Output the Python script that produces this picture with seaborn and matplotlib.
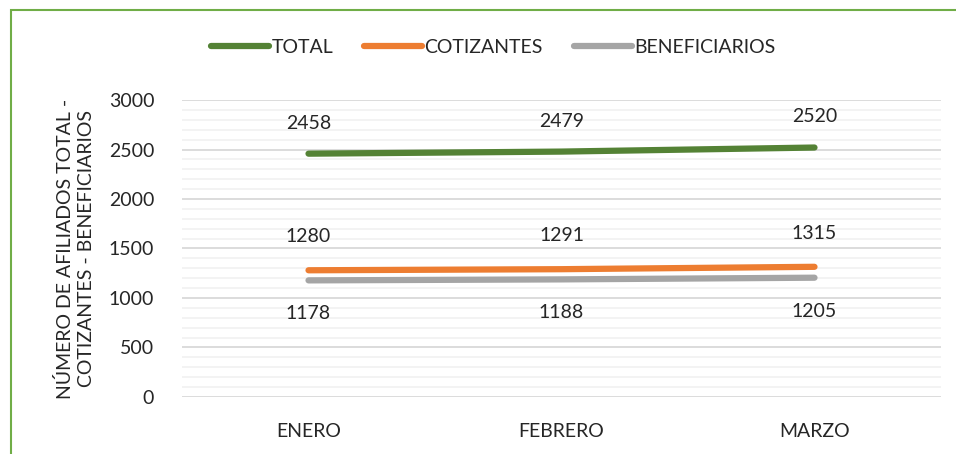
import pandas as pd
import matplotlib.pyplot as plt
import seaborn as sns
from matplotlib.patches import Rectangle
from matplotlib.ticker import MultipleLocator

# Data
meses = ["ENERO", "FEBRERO", "MARZO"]
total = [2458, 2479, 2520]
cotizantes = [1280, 1291, 1315]
beneficiarios = [1178, 1188, 1205]

series = ["TOTAL", "COTIZANTES", "BENEFICIARIOS"]
colores = ["#548235", "#ED7D31", "#A5A5A5"]

df = pd.DataFrame({
    "mes": meses * 3,
    "serie": ["TOTAL"] * 3 + ["COTIZANTES"] * 3 + ["BENEFICIARIOS"] * 3,
    "valor": total + cotizantes + beneficiarios,
})

sns.set_style("white")
plt.rcParams['font.family'] = ['Lato', 'DejaVu Sans']
fs = 14

fig = plt.figure(figsize=(9.56, 4.54), dpi=100)
ax = fig.add_axes([0.1904, 0.1256, 0.7939, 0.6541])

sns.lineplot(data=df, x="mes", y="valor", hue="serie", hue_order=series,
             palette=colores, linewidth=4.5, ax=ax, sort=False)
for ln in ax.lines:
    ln.set_solid_capstyle("round")

# Data labels
for i, m in enumerate(meses):
    ax.annotate(str(total[i]), (i, total[i]), xytext=(0, 22), textcoords="offset points",
                ha="center", va="center", fontsize=fs)
    ax.annotate(str(cotizantes[i]), (i, cotizantes[i]), xytext=(0, 24), textcoords="offset points",
                ha="center", va="center", fontsize=fs)
    ax.annotate(str(beneficiarios[i]), (i, beneficiarios[i]), xytext=(0, -24), textcoords="offset points",
                ha="center", va="center", fontsize=fs)

ax.set_xlim(-0.5, 2.5)
ax.set_ylim(0, 3000)
ax.yaxis.set_major_locator(MultipleLocator(500))
ax.yaxis.set_minor_locator(MultipleLocator(100))
ax.grid(which="major", axis="y", color="#D9D9D9", linewidth=1.3)
ax.grid(which="minor", axis="y", color="#F2F2F2", linewidth=1.3)
ax.set_axisbelow(True)
sns.despine(ax=ax, left=True, bottom=True)
ax.tick_params(axis="both", which="both", length=0, labelsize=fs)
ax.tick_params(axis="y", pad=20)
ax.tick_params(axis="x", pad=19)

ax.set_xlabel("")
ax.set_ylabel("NÚMERO DE AFILIADOS TOTAL -\nCOTIZANTES - BENEFICIARIOS", fontsize=fs,
              linespacing=1.3, labelpad=10)

leg = ax.legend(loc="center", bbox_to_anchor=(0.41, 1.178), ncol=3, frameon=False,
                fontsize=fs, handlelength=3.0, handletextpad=0.1, columnspacing=1.6)
for h in leg.get_lines():
    h.set_linewidth(4.5)
    h.set_solid_capstyle("round")

# Green chart border
fig.patches.append(Rectangle((11 / 956, -0.1), 1.2, 1.1 - 10 / 454, transform=fig.transFigure,
                             fill=False, edgecolor="#70AD47", linewidth=1.5))

fig.savefig("out.png", dpi=100)
